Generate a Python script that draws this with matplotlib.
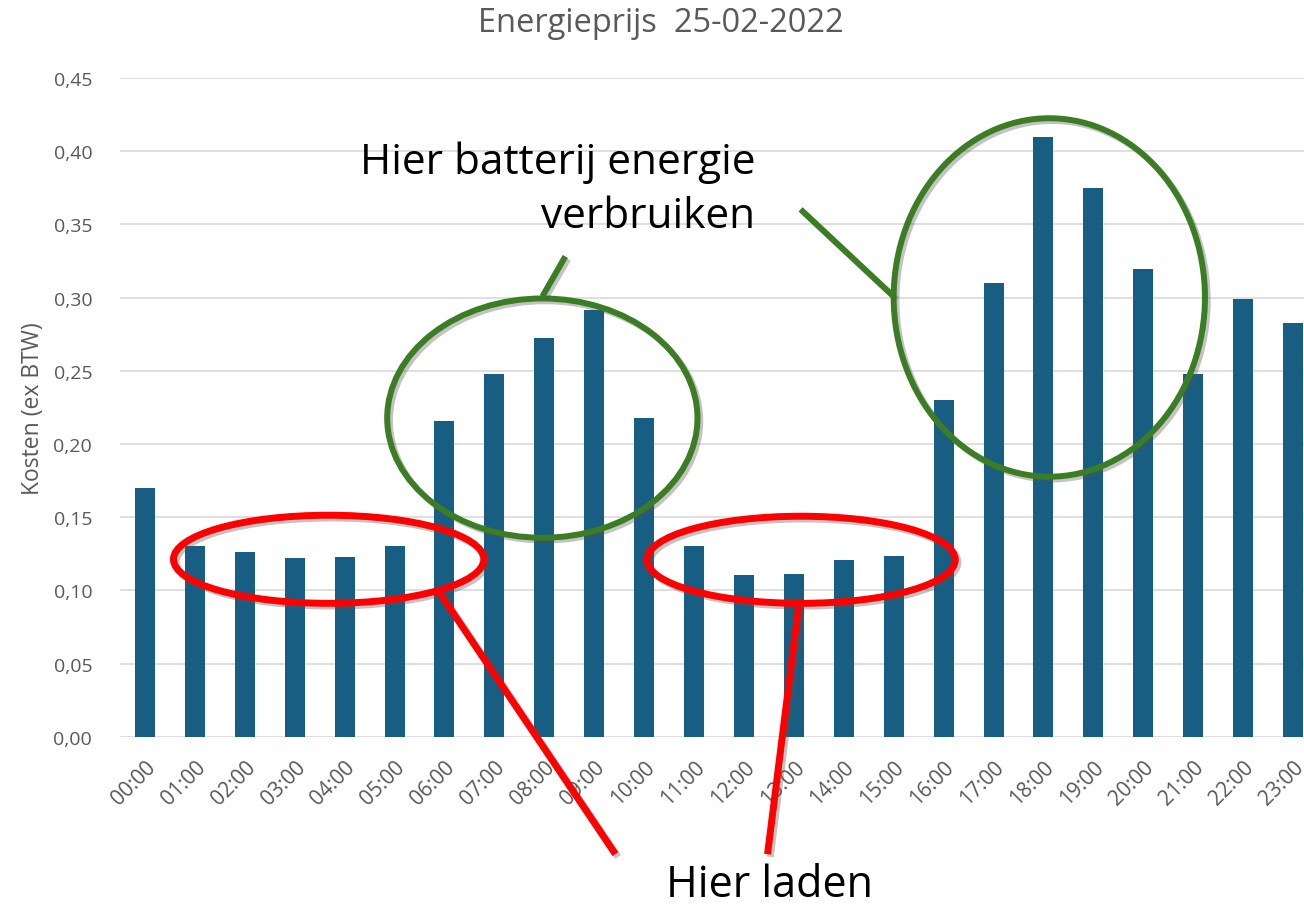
"""Energieprijs per uur op 25-02-2022, met aantekeningen voor laden/ontladen."""
import matplotlib
matplotlib.use("Agg")
import matplotlib.pyplot as plt
import matplotlib.patheffects as pe
from matplotlib.patches import Ellipse

hours = [f"{h:02d}:00" for h in range(24)]
prices = [0.170, 0.130, 0.1265, 0.122, 0.1225, 0.130,
          0.2155, 0.2478, 0.2722, 0.2918, 0.218, 0.130,
          0.1107, 0.1114, 0.1205, 0.1232, 0.2303, 0.310,
          0.4098, 0.3749, 0.3196, 0.2475, 0.2989, 0.2824]
yticks = [0.00, 0.05, 0.10, 0.15, 0.20, 0.25, 0.30, 0.35, 0.40, 0.45]

BAR = "#175e82"
GREY = "#595959"
GREEN = "#3b7d23"
RED = "#ff0000"

plt.rcParams["font.family"] = ["Open Sans", "DejaVu Sans"]

fig = plt.figure(figsize=(13.04, 9.12), dpi=100)
W, H = 1304, 912
ax = fig.add_axes([120 / W, 1 - 737.8 / H, (1318 - 120) / W, (737.8 - 79) / H])

x = range(len(hours))
ax.bar(x, prices, width=0.4, color=BAR, zorder=2)
ax.set_xlim(-0.5, 23.5)
ax.set_ylim(0, 0.45)
ax.set_yticks(yticks)
ax.set_yticklabels([f"{v:.2f}".replace(".", ",") for v in yticks], fontsize=14)
ax.set_xticks(list(x))
ax.set_xticklabels(hours, rotation=45, ha="right", rotation_mode="anchor", fontsize=15)
ax.tick_params(length=0, colors=GREY)
ax.tick_params(axis="y", pad=20)
ax.tick_params(axis="x", pad=14)
ax.grid(axis="y", color="#d9d9d9", lw=1.2, zorder=0)
for s in ax.spines.values():
    s.set_visible(False)
ax.set_ylabel("Kosten (ex BTW)", fontsize=16.5, color=GREY, labelpad=6)
fig.text(0.507, 1 - 24 / H, "Energieprijs  25-02-2022", ha="center", va="center",
         fontsize=23.5, color=GREY)


# annotation shapes, placed from picture pixels into data space
def d(px, py):
    return ((px - 145) / 49.87, (737.8 - py) / 1462.2)


SHADOW = [pe.Stroke(offset=(2, -2), foreground="#555555", alpha=0.35), pe.Normal()]


def ellipse(cx, cy, w, h, color, lw):
    e = Ellipse(d(cx, cy), w / 49.87, h / 1462.2, fill=False, ec=color, lw=lw,
                clip_on=False, zorder=5, path_effects=SHADOW)
    ax.add_patch(e)


def line(p0, p1, color, lw):
    (x0, y0), (x1, y1) = d(*p0), d(*p1)
    ax.plot([x0, x1], [y0, y1], color=color, lw=lw, clip_on=False, zorder=5,
            solid_capstyle="butt", path_effects=SHADOW)


ellipse(542, 419.5, 310, 239, GREEN, 4.3)
ellipse(1048.5, 299, 311, 358, GREEN, 4.3)
line((565, 258), (542, 298), GREEN, 4.3)
line((800, 211), (893, 298), GREEN, 4.3)

ellipse(328.5, 560.5, 310, 88, RED, 5)
ellipse(800.5, 561, 308, 87, RED, 5)
line((438, 592), (615, 855), RED, 5)
line((798, 608), (767, 855), RED, 5)

fig.text(755 / W, 1 - 190 / H, "Hier batterij energie\nverbruiken", ha="right", va="center",
         fontsize=30.5, color="black", linespacing=1.36)
fig.text(770 / W, 1 - 886 / H, "Hier laden", ha="center", va="center",
         fontsize=31, color="black")

fig.savefig("out.png", dpi=100)
